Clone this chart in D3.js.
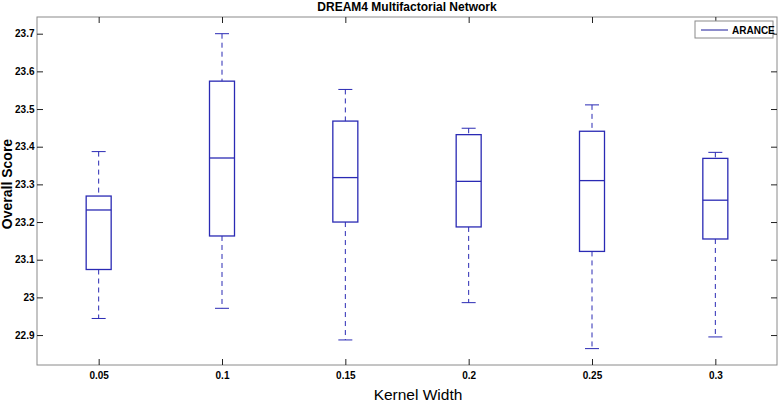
<!DOCTYPE html>
<html>
<head>
<meta charset="utf-8">
<script src="https://cdn.jsdelivr.net/npm/d3@7"></script>
<style>
  body { margin: 0; background: #fff; }
  svg { font-family: "Liberation Sans", Arial, sans-serif; }
</style>
</head>
<body>
<div id="vis"></div>
<script>
// kernel widths and box statistics
var widths = ["0.05", "0.1", "0.15", "0.2", "0.25", "0.3"];
var upperWhisker = [23.387, 23.700, 23.552, 23.449, 23.511, 23.385];
var q3 = [23.269, 23.574, 23.468, 23.432, 23.441, 23.369];
var medians = [23.232, 23.370, 23.318, 23.308, 23.310, 23.258];
var q1 = [23.074, 23.163, 23.200, 23.187, 23.122, 23.155];
var lowerWhisker = [22.944, 22.971, 22.887, 22.986, 22.864, 22.895];
var yTicks = [22.9, 23, 23.1, 23.2, 23.3, 23.4, 23.5, 23.6, 23.7];

var width = 778,
    height = 403;
var pl = 37, pr = 777, pt = 17, pb = 365;
var blue = "#2a2ab4";

var svg = d3.select("#vis").append("svg")
    .attr("width", width)
    .attr("height", height);

var x = d3.scaleLinear().domain([0.5, 6.5]).range([pl, pr]);
var y = d3.scaleLinear().domain([22.8205, 23.7443]).range([pb, pt]);

var boxes = widths.map(function(w, i) {
  return {label: w, pos: i + 1, hi: upperWhisker[i], q3: q3[i], med: medians[i], q1: q1[i], lo: lowerWhisker[i]};
});

// frame
svg.append("rect")
    .attr("x", pl).attr("y", pt)
    .attr("width", pr - pl).attr("height", pb - pt)
    .attr("fill", "none").attr("stroke", "#8a8a8a").attr("stroke-width", 1);

// axes, ticks pointing inward
var yAxis = svg.append("g")
    .attr("transform", "translate(" + pl + ",0)")
    .call(d3.axisRight(y).tickValues(yTicks).tickSize(6).tickFormat(d3.format("")));
yAxis.selectAll("text")
    .attr("x", -2.5).attr("text-anchor", "end")
    .style("font-size", "10px").style("font-weight", "bold").attr("fill", "#000");

svg.append("g")
    .attr("transform", "translate(" + pr + ",0)")
    .call(d3.axisLeft(y).tickValues(yTicks).tickSize(6).tickFormat(""));

var xAxis = svg.append("g")
    .attr("transform", "translate(0," + pb + ")")
    .call(d3.axisTop(x).tickValues(d3.range(1, 7)).tickSize(6).tickFormat(function(d) { return widths[d - 1]; }));
xAxis.selectAll("text")
    .attr("y", 13.5).attr("dy", 0)
    .style("font-size", "10px").style("font-weight", "bold").attr("fill", "#000");

svg.append("g")
    .attr("transform", "translate(0," + pt + ")")
    .call(d3.axisBottom(x).tickValues(d3.range(1, 7)).tickSize(6).tickFormat(""));

svg.selectAll(".domain").remove();
svg.selectAll(".tick line").attr("stroke", "#222");

// boxes
var bw = 25, cap = 14;
var g = svg.selectAll(".box")
    .data(boxes)
    .enter().append("g")
    .attr("class", "box");

g.append("line")
    .attr("x1", function(d) { return x(d.pos); }).attr("x2", function(d) { return x(d.pos); })
    .attr("y1", function(d) { return y(d.hi); }).attr("y2", function(d) { return y(d.q3); })
    .attr("stroke", blue).attr("stroke-dasharray", "5,4");
g.append("line")
    .attr("x1", function(d) { return x(d.pos); }).attr("x2", function(d) { return x(d.pos); })
    .attr("y1", function(d) { return y(d.q1); }).attr("y2", function(d) { return y(d.lo); })
    .attr("stroke", blue).attr("stroke-dasharray", "5,4");

g.append("line")
    .attr("x1", function(d) { return x(d.pos) - cap / 2; }).attr("x2", function(d) { return x(d.pos) + cap / 2; })
    .attr("y1", function(d) { return y(d.hi); }).attr("y2", function(d) { return y(d.hi); })
    .attr("stroke", blue);
g.append("line")
    .attr("x1", function(d) { return x(d.pos) - cap / 2; }).attr("x2", function(d) { return x(d.pos) + cap / 2; })
    .attr("y1", function(d) { return y(d.lo); }).attr("y2", function(d) { return y(d.lo); })
    .attr("stroke", blue);

g.append("rect")
    .attr("x", function(d) { return x(d.pos) - bw / 2; })
    .attr("y", function(d) { return y(d.q3); })
    .attr("width", bw)
    .attr("height", function(d) { return y(d.q1) - y(d.q3); })
    .attr("fill", "none").attr("stroke", blue).attr("stroke-width", 1.3);

g.append("line")
    .attr("x1", function(d) { return x(d.pos) - bw / 2; }).attr("x2", function(d) { return x(d.pos) + bw / 2; })
    .attr("y1", function(d) { return y(d.med); }).attr("y2", function(d) { return y(d.med); })
    .attr("stroke", blue).attr("stroke-width", 1.3);

// legend
var lg = svg.append("g").attr("transform", "translate(695,21)");
lg.append("rect").attr("width", 78).attr("height", 17)
    .attr("fill", "#fff").attr("stroke", "#8a8a8a");
lg.append("line").attr("x1", 6).attr("x2", 33).attr("y1", 9).attr("y2", 9).attr("stroke", "#1a1a9a");
lg.append("text").attr("x", 37).attr("y", 12.5)
    .style("font-size", "10px").style("font-weight", "bold").text("ARANCE");

// title and labels
svg.append("text")
    .attr("x", (pl + pr) / 2).attr("y", 11)
    .attr("text-anchor", "middle")
    .style("font-size", "12px").style("font-weight", "bold")
    .text("DREAM4 Multifactorial Network");

svg.append("text")
    .attr("x", 418).attr("y", 400)
    .attr("text-anchor", "middle")
    .style("font-size", "15.5px")
    .text("Kernel Width");

svg.append("text")
    .attr("transform", "translate(12,184) rotate(-90)")
    .attr("text-anchor", "middle")
    .style("font-size", "14px").style("font-weight", "bold")
    .text("Overall Score");
</script>
</body>
</html>
